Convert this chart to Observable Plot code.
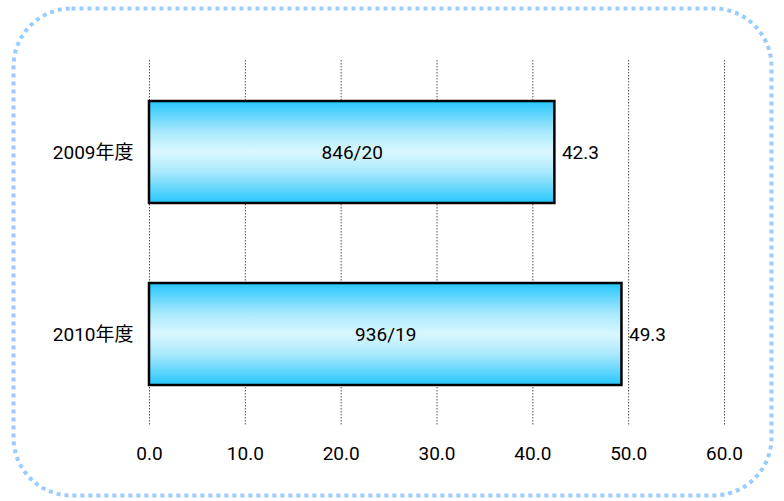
<!DOCTYPE html>
<html><head><meta charset="utf-8">
<script src="https://cdn.jsdelivr.net/npm/d3@7"></script>
<script src="https://cdn.jsdelivr.net/npm/@observablehq/plot@0.6"></script>
<style>
body{margin:0;background:#fff;}
#chart{position:relative;width:784px;height:501px;}
</style></head>
<body><div id="chart"></div>
<script>
const categories = ["2009年度", "2010年度"];
const values = [42.3, 49.3];
const innerLabels = ["846/20", "936/19"];
const xTicks = [0, 10, 20, 30, 40, 50, 60];

const data = categories.map((c, i) => ({cat: c, value: values[i], inner: innerLabels[i]}));
const font = "Roboto, 'Noto Sans CJK JP', sans-serif";

const plot = Plot.plot({
  width: 784, height: 501,
  marginLeft: 149, marginRight: 60, marginTop: 60, marginBottom: 76,
  style: {fontFamily: font, fontSize: "19px", color: "#000", background: "transparent"},
  x: {domain: [0, 60], ticks: xTicks, tickFormat: d3.format(".1f"), label: null, tickSize: 0, tickPadding: 21},
  y: {domain: categories, label: null, tickSize: 0, tickPadding: 16, padding: 0},
  marks: [
    Plot.ruleX(xTicks, {x: d => d, stroke: "#555", strokeWidth: 1, strokeDasharray: "1.5,1.5"}),
    Plot.barX(data, {y: "cat", x: "value", fill: "url(#barGrad)", stroke: "#000", strokeWidth: 2.5, insetTop: 40, insetBottom: 40}),
    Plot.text(data, {y: "cat", x: d => d.value / 2, text: "inner", fontSize: 19, fill: "#000"}),
    Plot.text(data, {y: "cat", x: "value", text: d => d3.format(".1f")(d.value), textAnchor: "start", dx: 7, fontSize: 19, fill: "#000"})
  ]
});

const svg = d3.select(plot);
const defs = svg.insert("defs", ":first-child");
const g = defs.append("linearGradient").attr("id", "barGrad").attr("x1", 0).attr("y1", 0).attr("x2", 0).attr("y2", 1);
[[0, "#25c6fc"], [0.3, "#a9e9fd"], [0.5, "#daf7ff"], [0.7, "#a9e9fd"], [1, "#25c6fc"]].forEach(([o, c]) =>
  g.append("stop").attr("offset", o).attr("stop-color", c));
svg.append("rect").attr("x", 13.5).attr("y", 8.5).attr("width", 758).attr("height", 487)
  .attr("rx", 58).attr("ry", 58).attr("fill", "none").attr("stroke", "#99ccff")
  .attr("stroke-width", 4).attr("stroke-dasharray", "4,4");
document.getElementById("chart").appendChild(plot);
</script></body></html>
